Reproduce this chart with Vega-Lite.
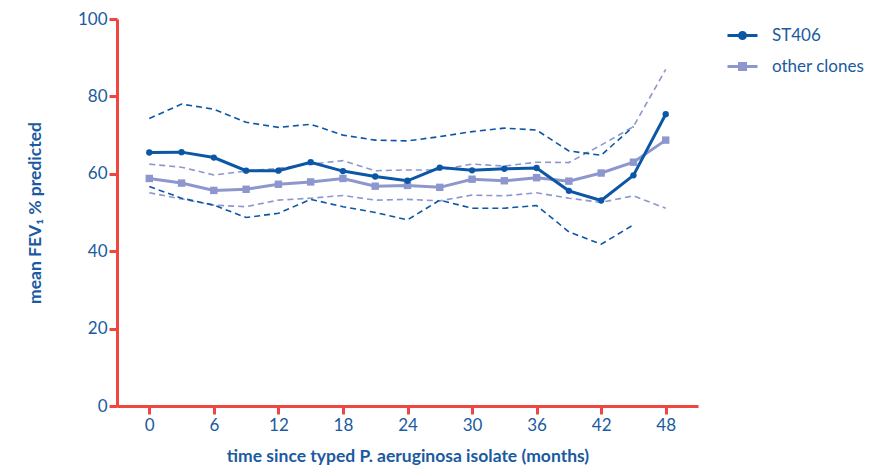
{
  "$schema": "https://vega.github.io/schema/vega-lite/v6.json",
  "width": 581,
  "height": 387,
  "autosize": {"type": "none"},
  "padding": {"left": 117, "top": 19, "right": 189, "bottom": 62},
  "background": "white",
  "config": {
    "view": {"stroke": null},
    "font": "Lato",
    "axis": {
      "grid": false,
      "domainColor": "#ef4640",
      "domainWidth": 3,
      "tickColor": "#ef4640",
      "tickWidth": 3,
      "tickSize": 8,
      "labelColor": "#1a5aa0",
      "labelFont": "Lato",
      "labelFontSize": 17,
      "titleColor": "#1a5aa0",
      "titleFont": "Lato",
      "titleFontSize": 17.5,
      "titleFontWeight": "bold"
    },
    "legend": {
      "labelColor": "#1a5aa0",
      "labelFont": "Lato",
      "labelFontSize": 17
    }
  },
  "data": {
    "values": [
      {"m": 0, "g": "other clones", "mean": 58.8, "lo": 55.1, "hi": 62.5},
      {"m": 3, "g": "other clones", "mean": 57.6, "lo": 53.5, "hi": 61.7},
      {"m": 6, "g": "other clones", "mean": 55.7, "lo": 51.9, "hi": 59.7},
      {"m": 9, "g": "other clones", "mean": 56.0, "lo": 51.5, "hi": 60.7},
      {"m": 12, "g": "other clones", "mean": 57.3, "lo": 53.2, "hi": 61.4},
      {"m": 15, "g": "other clones", "mean": 57.9, "lo": 53.7, "hi": 62.5},
      {"m": 18, "g": "other clones", "mean": 58.8, "lo": 54.4, "hi": 63.4},
      {"m": 21, "g": "other clones", "mean": 56.8, "lo": 53.2, "hi": 60.8},
      {"m": 24, "g": "other clones", "mean": 57.0, "lo": 53.4, "hi": 61.0},
      {"m": 27, "g": "other clones", "mean": 56.5, "lo": 53.0, "hi": 61.0},
      {"m": 30, "g": "other clones", "mean": 58.6, "lo": 54.5, "hi": 62.5},
      {"m": 33, "g": "other clones", "mean": 58.2, "lo": 54.3, "hi": 62.0},
      {"m": 36, "g": "other clones", "mean": 59.0, "lo": 55.1, "hi": 63.0},
      {"m": 39, "g": "other clones", "mean": 58.1, "lo": 53.7, "hi": 62.9},
      {"m": 42, "g": "other clones", "mean": 60.2, "lo": 52.6, "hi": 67.4},
      {"m": 45, "g": "other clones", "mean": 63.0, "lo": 54.3, "hi": 72.2},
      {"m": 48, "g": "other clones", "mean": 68.7, "lo": 51.1, "hi": 87.0},
      {"m": 0, "g": "ST406", "mean": 65.5, "lo": 56.7, "hi": 74.3},
      {"m": 3, "g": "ST406", "mean": 65.6, "lo": 53.7, "hi": 78.0},
      {"m": 6, "g": "ST406", "mean": 64.2, "lo": 51.9, "hi": 76.7},
      {"m": 9, "g": "ST406", "mean": 60.8, "lo": 48.7, "hi": 73.3},
      {"m": 12, "g": "ST406", "mean": 60.8, "lo": 49.8, "hi": 72.0},
      {"m": 15, "g": "ST406", "mean": 63.0, "lo": 53.4, "hi": 72.8},
      {"m": 18, "g": "ST406", "mean": 60.7, "lo": 51.5, "hi": 70.0},
      {"m": 21, "g": "ST406", "mean": 59.3, "lo": 50.0, "hi": 68.7},
      {"m": 24, "g": "ST406", "mean": 58.2, "lo": 48.1, "hi": 68.5},
      {"m": 27, "g": "ST406", "mean": 61.6, "lo": 53.2, "hi": 69.6},
      {"m": 30, "g": "ST406", "mean": 60.9, "lo": 51.1, "hi": 70.9},
      {"m": 33, "g": "ST406", "mean": 61.3, "lo": 51.1, "hi": 71.8},
      {"m": 36, "g": "ST406", "mean": 61.5, "lo": 51.8, "hi": 71.3},
      {"m": 39, "g": "ST406", "mean": 55.6, "lo": 45.0, "hi": 65.9},
      {"m": 42, "g": "ST406", "mean": 53.1, "lo": 41.8, "hi": 64.8},
      {"m": 45, "g": "ST406", "mean": 59.6, "lo": 46.8, "hi": 72.2},
      {"m": 48, "g": "ST406", "mean": 75.4, "lo": null, "hi": null}
    ]
  },
  "encoding": {
    "x": {
      "field": "m",
      "type": "quantitative",
      "scale": {"domain": [-3, 51], "nice": false, "zero": false},
      "axis": {
        "values": [0, 6, 12, 18, 24, 30, 36, 42, 48],
        "labelPadding": 3,
        "title": "time since typed P. aeruginosa isolate (months)",
        "titlePadding": 14
      }
    }
  },
  "resolve": {"legend": {"color": "independent"}},
  "layer": [
    {
      "transform": [
        {"fold": ["lo", "hi"], "as": ["bound", "v"]},
        {"filter": "datum.v != null"}
      ],
      "mark": {"type": "line", "strokeDash": [6, 4], "strokeWidth": 1.6},
      "encoding": {
        "y": {"field": "v", "type": "quantitative"},
        "color": {
          "field": "g",
          "type": "nominal",
          "scale": {"domain": ["ST406", "other clones"], "range": ["#0b57a5", "#8e97cd"]},
          "legend": null
        },
        "detail": {"field": "bound"}
      }
    },
    {
      "mark": {"type": "line", "strokeWidth": 3},
      "encoding": {
        "y": {
          "field": "mean",
          "type": "quantitative",
          "scale": {"domain": [0, 100], "nice": false},
          "axis": {
            "values": [0, 20, 40, 60, 80, 100],
            "labelPadding": 2,
            "title": "mean FEV₁ % predicted",
            "titlePadding": 33
          }
        },
        "color": {
          "field": "g",
          "type": "nominal",
          "scale": {"domain": ["ST406", "other clones"], "range": ["#0b57a5", "#8e97cd"]},
          "legend": {
            "title": null,
            "orient": "none",
            "legendX": 609,
            "legendY": 0,
            "symbolType": "stroke",
            "symbolStrokeWidth": 3,
            "symbolSize": 900,
            "rowPadding": 5,
            "labelOffset": 13,
            "encode": {
              "symbols": {
                "update": {
                  "shape": {"signal": "datum.value === 'ST406' ? 'M-1,0H1M-0.2,0A0.2,0.2,0,1,1,0.2,0A0.2,0.2,0,1,1,-0.2,0Z' : 'M-1,0H1M-0.2,-0.2H0.2V0.2H-0.2Z'"},
                  "fill": {"signal": "datum.value === 'ST406' ? '#0b57a5' : '#8e97cd'"}
                }
              }
            }
          }
        }
      }
    },
    {
      "mark": {"type": "point", "filled": true, "opacity": 1},
      "encoding": {
        "y": {"field": "mean", "type": "quantitative"},
        "color": {
          "field": "g",
          "type": "nominal",
          "scale": {"domain": ["ST406", "other clones"], "range": ["#0b57a5", "#8e97cd"]},
          "legend": null
        },
        "shape": {
          "field": "g",
          "type": "nominal",
          "scale": {"domain": ["ST406", "other clones"], "range": ["circle", "square"]},
          "legend": null
        },
        "size": {
          "field": "g",
          "type": "nominal",
          "scale": {"domain": ["ST406", "other clones"], "range": [40, 55]},
          "legend": null
        }
      }
    }
  ]
}
